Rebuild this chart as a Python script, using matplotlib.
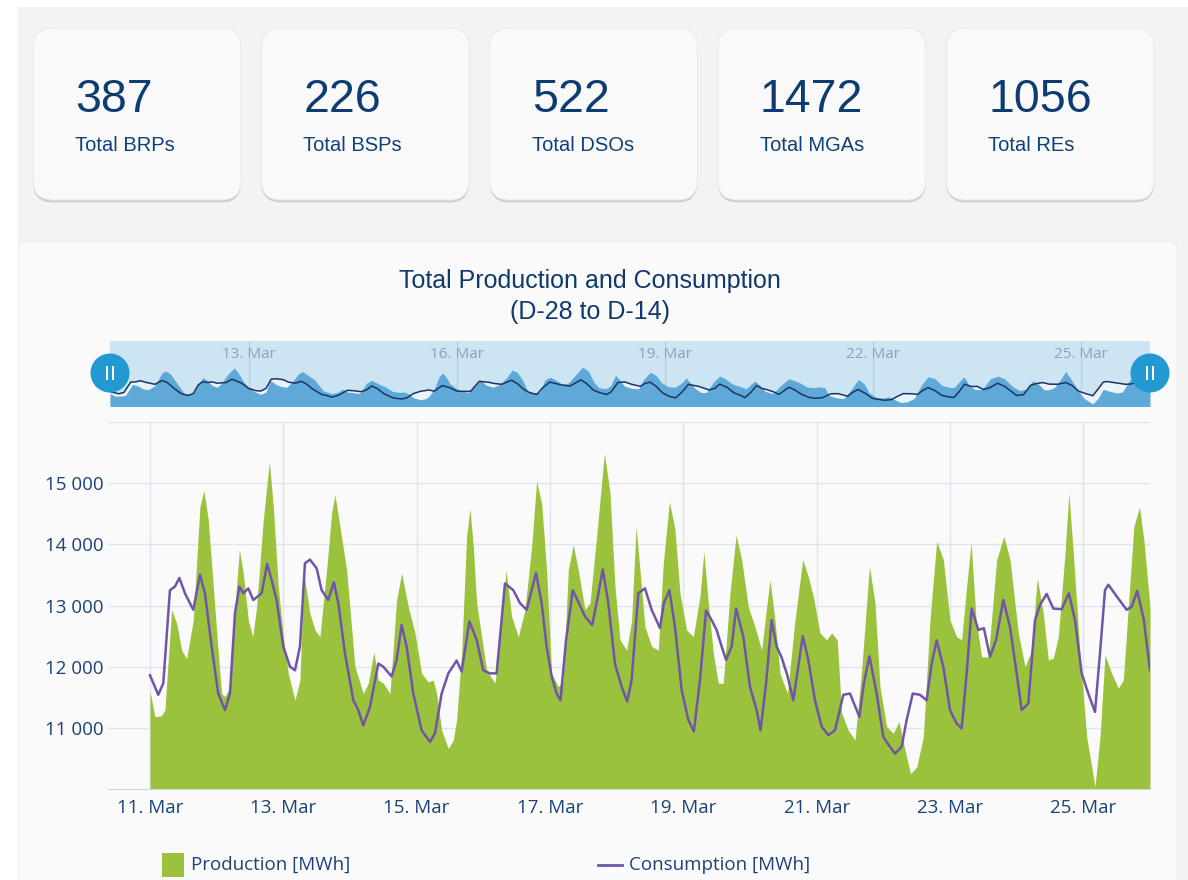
import matplotlib.pyplot as plt
from matplotlib.patches import FancyBboxPatch, Rectangle, Circle
from matplotlib.transforms import blended_transform_factory

# Summary cards
CARD_VALUES = ["387", "226", "522", "1472", "1056"]
CARD_LABELS = ["Total BRPs", "Total BSPs", "Total DSOs", "Total MGAs", "Total REs"]

# Hourly production, hours counted from 11 Mar 00:00
PROD_HOURS = [0, 1.8, 4.2, 5.4, 7.8, 9.6, 11.4, 13.2, 15.6, 18, 19.4, 21, 22.8, 24.6, 25.8, 27,
              28.8, 30.6, 32.2, 33.6, 35.4, 37, 38.4, 40.8, 43, 44.4, 46.2, 48, 49.8, 52.2, 54,
              55.4, 57.6, 59.4, 61.2, 63.6, 65.4, 66.6, 68.4, 70.8, 73.8, 76.8, 78.6, 80.6, 82.2,
              84, 86.4, 88.8, 90.6, 93, 95.4, 97.8, 100.2, 102, 103.2, 105, 107.4, 109.2, 110.4,
              112.2, 114, 115.2, 116.4, 117.6, 119.4, 121.2, 124.2, 126.6, 128.2, 130.2, 132.6,
              135, 137.4, 139.2, 141, 142.8, 144.6, 147, 148.8, 150.6, 152.4, 154.2, 156.6, 158.4,
              160.8, 163.6, 165.6, 167.4, 169.2, 171.6, 173.4, 175, 176.4, 178.2, 180.6, 183,
              184.8, 187, 189, 190.8, 193.2, 195.6, 198, 199.4, 201, 202.8, 204.6, 206.4, 208.8,
              211, 213, 215.4, 217.8, 220.2, 222, 223.2, 225, 226.8, 229.5, 232.2, 235, 237,
              238.8, 241.2, 243.6, 245.4, 247.4, 249, 251.4, 253.8, 256.2, 259, 261, 262.8, 265.2,
              267.6, 269.6, 271.8, 273.8, 276, 278.4, 280.8, 283.2, 285.6, 288, 290.4, 292.2, 294,
              295.6, 297.4, 299.4, 301.8, 304.8, 307.4, 309.6, 312.6, 315, 317.4, 319.4, 321.6,
              323.4, 325.2, 327, 329.4, 330.8, 332.4, 334.8, 337.2, 340.2, 342, 343.8, 346.2,
              348.6, 350.4, 352.2, 354.2, 356.2, 357.8, 360]
PROD_MWH = [11600, 11180, 11200, 11300, 12930, 12710, 12270, 12130, 12760, 14620, 14880, 14400,
            13310, 12220, 11560, 11510, 11670, 12980, 13910, 13530, 12760, 12490, 12980, 14400,
            15350, 14620, 13310, 12490, 11890, 11450, 11780, 13530, 12870, 12600, 12490, 13580,
            14510, 14810, 14290, 13580, 12000, 11560, 11730, 12240, 11780, 11730, 11560, 13090,
            13530, 12980, 12550, 11890, 11750, 11780, 11560, 10960, 10660, 10800, 11130, 12220,
            14130, 14590, 13960, 13040, 12490, 11940, 11730, 12760, 13580, 12820, 12490, 12930,
            13960, 15030, 14670, 13580, 11890, 11670, 11780, 13580, 13990, 13580, 12930, 13040,
            14130, 15490, 14840, 13310, 12440, 12270, 12760, 14290, 13580, 12650, 12330, 12270,
            13690, 14700, 14240, 13200, 12600, 12490, 13150, 13880, 13040, 12220, 11730, 11730,
            13200, 14150, 13750, 12980, 12650, 12270, 12980, 13420, 12760, 11890, 11560, 12760,
            13750, 13470, 13150, 12550, 12440, 12550, 12440, 11240, 10960, 10800, 11940, 13640,
            13040, 11670, 11020, 10910, 11100, 10640, 10250, 10360, 10850, 12760, 14050, 13750,
            12760, 12490, 12440, 13310, 14030, 12760, 12160, 12160, 13750, 14130, 13750, 12550,
            12000, 12270, 13450, 12870, 12110, 12140, 12490, 13850, 14840, 13850, 12220, 10850,
            10040, 10850, 12190, 11890, 11650, 11780, 12980, 14290, 14610, 14070, 12980]

# Hourly consumption, hours counted from 11 Mar 00:00
CONS_HOURS = [0, 3, 4.8, 7.2, 9, 10.6, 12.6, 15.6, 18, 19.8, 22.2, 24.6, 27, 28.8, 30.6, 32.2,
              33.6, 35.4, 37.2, 40.2, 42.2, 43.8, 45.6, 48, 50.4, 52.2, 54, 55.8, 57.6, 60, 61.8,
              64.2, 66.2, 67.8, 70.2, 73.2, 75, 76.8, 79.2, 82.2, 84, 87, 88.8, 90.6, 92.4, 94.8,
              97.8, 100.8, 102.6, 105, 107.4, 110.4, 112.2, 115, 117.6, 120, 122.4, 124.8, 127.8,
              130.8, 133.2, 135.6, 139, 141, 142.8, 144.6, 146.4, 147.8, 149.8, 152.2, 154.2,
              156.6, 159.2, 161, 163, 165, 167.4, 169.8, 171.8, 173.4, 175.8, 178.2, 180.6, 183.6,
              185, 187, 189, 191.4, 193.8, 195.8, 198, 200.2, 202.2, 204, 205.8, 207.4, 209.4,
              211, 213.6, 216, 218.4, 219.8, 221.8, 223.8, 225.6, 227.4, 229.5, 231.6, 235, 237,
              239.4, 241.8, 244.2, 246.6, 249.6, 252, 255.4, 257, 259, 261.6, 264, 266.4, 268.2,
              270.6, 272.4, 274.6, 277.2, 279.6, 281.4, 283.2, 285.6, 288, 290.4, 292.2, 294,
              295.8, 298.2, 300.2, 302.4, 304.6, 307.2, 309.6, 312, 313.8, 316.2, 318.6, 320.4,
              322.8, 325.2, 328.2, 330.8, 333, 335.4, 337.8, 340.2, 342, 343.8, 345, 348, 351.6,
              353.4, 355.4, 357.8, 360]
CONS_MWH = [11860, 11540, 11730, 13250, 13310, 13450, 13200, 12930, 13500, 13200, 12330, 11560,
            11290, 11560, 12870, 13310, 13200, 13280, 13090, 13200, 13680, 13420, 13090, 12330,
            12000, 11940, 12330, 13690, 13750, 13610, 13250, 13090, 13380, 13040, 12220, 11450,
            11290, 11040, 11340, 12050, 12000, 11840, 12110, 12680, 12330, 11560, 10960, 10770,
            10910, 11560, 11890, 12100, 11920, 12740, 12440, 11940, 11890, 11890, 13360, 13250,
            13040, 12930, 13530, 13040, 12330, 11840, 11560, 11450, 12440, 13250, 13060, 12820,
            12680, 13090, 13590, 13040, 12050, 11670, 11430, 11780, 13200, 13280, 12930, 12630,
            13040, 13250, 12650, 11620, 11130, 10940, 11780, 12920, 12760, 12600, 12330, 12110,
            12330, 12950, 12490, 11670, 11290, 10960, 11730, 12760, 12330, 12150, 11850, 11450,
            12500, 12110, 11450, 11020, 10880, 10960, 11540, 11560, 11180, 11730, 12170, 11560,
            10850, 10690, 10580, 10690, 11130, 11560, 11540, 11450, 12050, 12430, 12000, 11290,
            11070, 10990, 11890, 12950, 12600, 12630, 12160, 12440, 13090, 12650, 11890, 11290,
            11400, 12760, 13010, 13190, 12950, 12940, 13200, 12760, 11890, 11560, 11260, 12220,
            13250, 13340, 13150, 12930, 12980, 13240, 12760, 11940]

X_TICKS = [0, 48, 96, 144, 192, 240, 288, 336]
X_TICK_LABELS = ["11. Mar", "13. Mar", "15. Mar", "17. Mar", "19. Mar", "21. Mar", "23. Mar", "25. Mar"]
NAV_TICKS = [48, 120, 192, 264, 336]
NAV_TICK_LABELS = ["13. Mar", "16. Mar", "19. Mar", "22. Mar", "25. Mar"]
Y_TICKS = [11000, 12000, 13000, 14000, 15000]

W, H = 1188, 880
GREEN = "#9bc23c"
PURPLE = "#7055a8"
NAVY = "#0c3c72"
TEXT_BLUE = "#1d4274"
GRID = "#dfe5ee"

fig = plt.figure(figsize=(W / 100, H / 100), dpi=100)
fig.patch.set_facecolor("white")

# page background, drawn in pixel coordinates
bg = fig.add_axes([0, 0, 1, 1], zorder=0)
bg.set_xlim(0, W)
bg.set_ylim(H, 0)
bg.axis("off")
bg.add_patch(Rectangle((18, 7), W - 18, H - 7, color="#f3f3f3", lw=0))

for i, (val, lab) in enumerate(zip(CARD_VALUES, CARD_LABELS)):
    x0 = 33 + i * 228.3
    bg.add_patch(FancyBboxPatch((x0, 30.5), 208, 172, boxstyle="round,pad=0,rounding_size=20",
                                fc="#cfcfcf", ec="none"))
    bg.add_patch(FancyBboxPatch((x0, 28), 208, 172, boxstyle="round,pad=0,rounding_size=20",
                                fc="#f9f9f9", ec="#e8e8e8", lw=0.6))
    bg.text(x0 + 42, 112, val, fontsize=33.5, color=NAVY, family="Liberation Sans", va="baseline")
    bg.text(x0 + 42, 151, lab, fontsize=14.5, color="#0f4178", family="Liberation Sans",
            va="baseline")

# chart panel
bg.add_patch(FancyBboxPatch((18, 242), 1159, 700, boxstyle="round,pad=0,rounding_size=8",
                            fc="#fafafa", ec="#ececec", lw=0.6))
bg.text(590, 281, "Total Production and Consumption", fontsize=18, color="#0f3a6b",
        family="Liberation Sans", ha="center", va="center")
bg.text(590, 312, "(D-28 to D-14)", fontsize=18, color="#0f3a6b",
        family="Liberation Sans", ha="center", va="center")

# main chart
ax = fig.add_axes([108 / W, 1 - 789 / H, 1042 / W, 367 / H], zorder=2)
ax.set_facecolor("none")
ax.fill_between(PROD_HOURS, PROD_MWH, 10000, color=GREEN, lw=0, zorder=2)
ax.plot(CONS_HOURS, CONS_MWH, color=PURPLE, lw=1.8, zorder=3)
ax.set_xlim(-15.1, 360)
ax.set_ylim(10000, 16000)
ax.set_xticks(X_TICKS)
ax.set_xticklabels(X_TICK_LABELS)
ax.set_yticks(Y_TICKS)
ax.set_yticklabels([f"{v // 1000} {v % 1000:03d}" for v in Y_TICKS])
ax.grid(True, color=GRID, lw=1, zorder=0)
ax.axhline(16000, color=GRID, lw=1.6, zorder=0)
ax.set_axisbelow(True)
for s in ["top", "right", "left"]:
    ax.spines[s].set_visible(False)
ax.spines["bottom"].set_color("#ccd6eb")
ax.tick_params(length=0, labelsize=13.5, labelcolor=TEXT_BLUE)
ax.tick_params(axis="x", pad=7)
ax.tick_params(axis="y", pad=3)
for t in ax.get_xticklabels() + ax.get_yticklabels():
    t.set_family("Open Sans")

# navigator strip
nav = fig.add_axes([110 / W, 1 - 406 / H, 1040 / W, 65 / H], zorder=2)
nav.set_facecolor("#cde4f2")
nav.fill_between(CONS_HOURS, CONS_MWH, 9000, color="#eaf3f9", lw=0, zorder=1)
nav.fill_between(PROD_HOURS, PROD_MWH, 9000, color="#5fa9d8", lw=0, zorder=2)
nav.plot(CONS_HOURS, CONS_MWH, color="#1b3562", lw=1.1, zorder=3)
nav.set_xlim(0, 360)
nav.set_ylim(9740, 19300)
nav.set_xticks([])
nav.set_yticks([])
for s in nav.spines.values():
    s.set_visible(False)
tr = blended_transform_factory(nav.transData, nav.transAxes)
for h, lab in zip(NAV_TICKS, NAV_TICK_LABELS):
    nav.axvline(h, color="#b7d0e2", lw=0.8, zorder=0.5)
    nav.text(h, 0.8, lab, transform=tr, ha="center", va="center", fontsize=11,
             color="#8aa3bd", family="Open Sans", zorder=4)

# overlay: navigator handles and legend
top = fig.add_axes([0, 0, 1, 1], zorder=5)
top.set_xlim(0, W)
top.set_ylim(H, 0)
top.axis("off")
top.patch.set_alpha(0)
for cx in (110, 1150):
    top.add_patch(Circle((cx, 373), 19.5, color="#2299d3", lw=0))
    for dx in (-4.2, 1.8):
        top.add_patch(Rectangle((cx + dx, 366), 2.4, 14, color="white", lw=0))

top.add_patch(Rectangle((162, 853), 22, 24, color=GREEN, lw=0))
top.text(191, 865, "Production [MWh]", fontsize=13.5, color=TEXT_BLUE, family="Open Sans",
         va="center")
top.plot([598, 622], [865, 865], color=PURPLE, lw=2)
top.text(629, 865, "Consumption [MWh]", fontsize=13.5, color=TEXT_BLUE, family="Open Sans",
         va="center")

fig.savefig("out.png", dpi=100)
